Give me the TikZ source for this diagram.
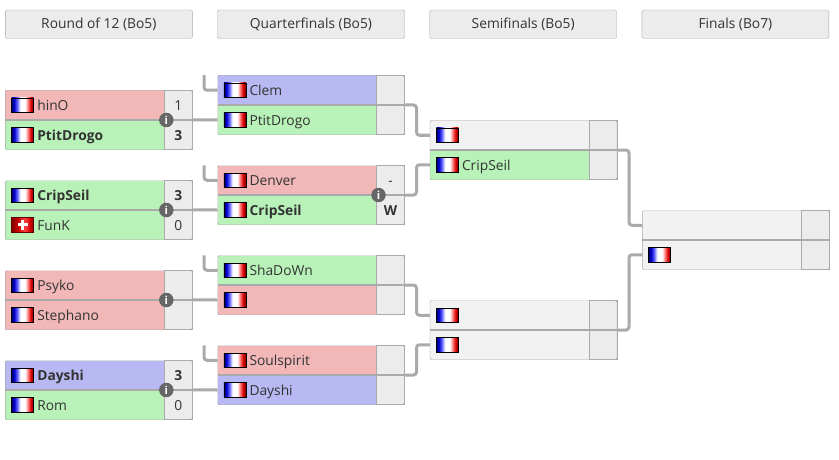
\documentclass[tikz,border=0pt]{standalone}
\usepackage{fontspec}
\setmainfont{Open Sans}
\usetikzlibrary{positioning, fit}
\definecolor{lose}{HTML}{F2B8B8}
\definecolor{win}{HTML}{B8F2B8}
\definecolor{tie}{HTML}{B8B8F2}
\definecolor{open}{HTML}{F2F2F2}
\definecolor{scorebg}{HTML}{ECECEC}
\definecolor{edge}{HTML}{AAAAAA}
\definecolor{ink}{HTML}{333333}
\pgfdeclarehorizontalshading{frshade}{100bp}{color(0bp)=(blue!45!black); color(25bp)=(blue!45!black);
    color(31bp)=(blue!80!black); color(38bp)=(blue!60!white); color(45bp)=(white); color(56bp)=(white); color(62bp)=(red!50!white);
    color(69bp)=(red!85!black); color(75bp)=(red!50!black); color(100bp)=(red!50!black)}
\pgfdeclarehorizontalshading{chshade}{100bp}{color(0bp)=(red!50!black); color(25bp)=(red!50!black);
    color(40bp)=(red!80!black); color(55bp)=(red!75!white); color(68bp)=(red!80!black);
    color(75bp)=(red!50!black); color(100bp)=(red!50!black)}
\tikzset{
    roundhdr/.style={
        rectangle, draw=edge, fill=scorebg, rounded corners=1.5pt, outer sep=0pt,
        minimum width=187pt, minimum height=28.5pt, text=ink, font=\fontsize{13.8}{16}\selectfont
    },
    namebox/.style={
        rectangle, outer sep=0pt, inner xsep=4pt, inner ysep=0pt, text width=151pt,
        minimum height=29.5pt, text height=12pt, text depth=1.5pt, align=left, text=ink,
        font=\fontsize{13.8}{16}\selectfont, execute at begin node=\hspace*{28pt}
    },
    scorebox/.style={
        rectangle, draw=edge, fill=scorebg, outer sep=0pt, inner sep=0pt,
        minimum width=28pt, minimum height=29.5pt, text height=12pt, text depth=1.5pt,
        text=ink, font=\fontsize{13.8}{16}\selectfont
    },
    matchbox/.style={draw=edge, rounded corners=1.5pt, inner sep=0pt, outer sep=0pt},
    flagfr/.style={rectangle, draw=black, line width=0.5pt, shading=frshade, inner sep=0pt, minimum width=22pt, minimum height=14.5pt},
    flagch/.style={rectangle, draw=red!40!black, line width=0.5pt, shading=chshade, inner sep=0pt, minimum width=22pt, minimum height=14.5pt,
        path picture={
            \fill[white] ([xshift=-5pt,yshift=1.5pt]path picture bounding box.center) rectangle ++(10,3);
            \fill[white] ([xshift=-1.5pt,yshift=5pt]path picture bounding box.center) rectangle ++(3,10);
        }},
    infoicon/.style={circle, fill=black!60, text=white, inner sep=0pt, minimum size=14.5pt, xshift=2pt,
        font=\fontsize{11}{11}\selectfont\bfseries},
    conn/.style={draw=edge, line width=3pt, rounded corners=3pt},
    midline/.style={draw=edge, line width=1.6pt}
}

\begin{document}
\begin{tikzpicture}[x=1pt, y=-1pt]
\useasboundingbox (0,0) rectangle (839,460);

% -- Round headers -------------------------------------------------------------
\node[roundhdr, anchor=north west] (hdr1) at (5.3,10) {Round of 12 (Bo5)};
\node[roundhdr, right=25.2pt of hdr1] (hdr2) {Quarterfinals (Bo5)};
\node[roundhdr, right=25.2pt of hdr2] (hdr3) {Semifinals (Bo5)};
\node[roundhdr, right=25.2pt of hdr3] (hdr4) {Finals (Bo7)};

% -- Round of 12 ---------------------------------------------------------------
\node[namebox, fill=lose, anchor=north west] (r1a) at (5.3,90.5) {hinO};
\node[namebox, fill=win, below=0pt of r1a] (r1b) {\textbf{PtitDrogo}};
\node[scorebox, right=0pt of r1a] (r1as) {1};
\node[scorebox, right=0pt of r1b] (r1bs) {\textbf{3}};
\node[flagfr, right=6pt of r1a.west] (r1af) {};
\node[flagfr, right=6pt of r1b.west] (r1bf) {};
\node[matchbox, fit=(r1a)(r1bs)] (r1) {};

\node[namebox, fill=win, below=31pt of r1b] (r2a) {\textbf{CripSeil}};
\node[namebox, fill=win, below=0pt of r2a] (r2b) {FunK};
\node[scorebox, right=0pt of r2a] (r2as) {\textbf{3}};
\node[scorebox, right=0pt of r2b] (r2bs) {0};
\node[flagfr, right=6pt of r2a.west] (r2af) {};
\node[flagch, right=6pt of r2b.west] (r2bf) {};
\node[matchbox, fit=(r2a)(r2bs)] (r2) {};

\node[namebox, fill=lose, below=31pt of r2b] (r3a) {Psyko};
\node[namebox, fill=lose, below=0pt of r3a] (r3b) {Stephano};
\node[scorebox, right=0pt of r3a] (r3as) {};
\node[scorebox, right=0pt of r3b] (r3bs) {};
\node[flagfr, right=6pt of r3a.west] (r3af) {};
\node[flagfr, right=6pt of r3b.west] (r3bf) {};
\node[matchbox, fit=(r3a)(r3bs)] (r3) {};

\node[namebox, fill=tie, below=31pt of r3b] (r4a) {\textbf{Dayshi}};
\node[namebox, fill=win, below=0pt of r4a] (r4b) {Rom};
\node[scorebox, right=0pt of r4a] (r4as) {\textbf{3}};
\node[scorebox, right=0pt of r4b] (r4bs) {0};
\node[flagfr, right=6pt of r4a.west] (r4af) {};
\node[flagfr, right=6pt of r4b.west] (r4bf) {};
\node[matchbox, fit=(r4a)(r4bs)] (r4) {};

% -- Quarterfinals -------------------------------------------------------------
\node[namebox, fill=tie, anchor=north west] (q1a) at (217.5,75.5) {Clem};
\node[namebox, fill=win, below=0pt of q1a] (q1b) {PtitDrogo};
\node[scorebox, right=0pt of q1a] (q1as) {};
\node[scorebox, right=0pt of q1b] (q1bs) {};
\node[flagfr, right=6pt of q1a.west] (q1af) {};
\node[flagfr, right=6pt of q1b.west] (q1bf) {};
\node[matchbox, fit=(q1a)(q1bs)] (q1) {};

\node[namebox, fill=lose, below=31pt of q1b] (q2a) {Denver};
\node[namebox, fill=win, below=0pt of q2a] (q2b) {\textbf{CripSeil}};
\node[scorebox, right=0pt of q2a] (q2as) {-};
\node[scorebox, right=0pt of q2b] (q2bs) {\textbf{W}};
\node[flagfr, right=6pt of q2a.west] (q2af) {};
\node[flagfr, right=6pt of q2b.west] (q2bf) {};
\node[matchbox, fit=(q2a)(q2bs)] (q2) {};

\node[namebox, fill=win, below=31pt of q2b] (q3a) {ShaDoWn};
\node[namebox, fill=lose, below=0pt of q3a] (q3b) {};
\node[scorebox, right=0pt of q3a] (q3as) {};
\node[scorebox, right=0pt of q3b] (q3bs) {};
\node[flagfr, right=6pt of q3a.west] (q3af) {};
\node[flagfr, right=6pt of q3b.west] (q3bf) {};
\node[matchbox, fit=(q3a)(q3bs)] (q3) {};

\node[namebox, fill=lose, below=31pt of q3b] (q4a) {Soulspirit};
\node[namebox, fill=tie, below=0pt of q4a] (q4b) {Dayshi};
\node[scorebox, right=0pt of q4a] (q4as) {};
\node[scorebox, right=0pt of q4b] (q4bs) {};
\node[flagfr, right=6pt of q4a.west] (q4af) {};
\node[flagfr, right=6pt of q4b.west] (q4bf) {};
\node[matchbox, fit=(q4a)(q4bs)] (q4) {};

% -- Semifinals ----------------------------------------------------------------
\node[namebox, fill=open, anchor=north west] (s1a) at (430,120.5) {};
\node[namebox, fill=win, below=0pt of s1a] (s1b) {CripSeil};
\node[scorebox, right=0pt of s1a] (s1as) {};
\node[scorebox, right=0pt of s1b] (s1bs) {};
\node[flagfr, right=6pt of s1a.west] (s1af) {};
\node[flagfr, right=6pt of s1b.west] (s1bf) {};
\node[matchbox, fit=(s1a)(s1bs)] (s1) {};

\node[namebox, fill=open, below=121pt of s1b] (s2a) {};
\node[namebox, fill=open, below=0pt of s2a] (s2b) {};
\node[scorebox, right=0pt of s2a] (s2as) {};
\node[scorebox, right=0pt of s2b] (s2bs) {};
\node[flagfr, right=6pt of s2a.west] (s2af) {};
\node[flagfr, right=6pt of s2b.west] (s2bf) {};
\node[matchbox, fit=(s2a)(s2bs)] (s2) {};

% -- Finals --------------------------------------------------------------------
\node[namebox, fill=open, anchor=north west] (f1a) at (642.3,210.5) {};
\node[namebox, fill=open, below=0pt of f1a] (f1b) {};
\node[scorebox, right=0pt of f1a] (f1as) {};
\node[scorebox, right=0pt of f1b] (f1bs) {};
\node[flagfr, right=6pt of f1b.west] (f1bf) {};
\node[matchbox, fit=(f1a)(f1bs)] (f1) {};

% -- Dividers ------------------------------------------------------------------
\draw[midline] (r1.west) -- (r1.east);
\draw[midline] (r2.west) -- (r2.east);
\draw[midline] (r3.west) -- (r3.east);
\draw[midline] (r4.west) -- (r4.east);
\draw[midline] (q1.west) -- (q1.east);
\draw[midline] (q2.west) -- (q2.east);
\draw[midline] (q3.west) -- (q3.east);
\draw[midline] (q4.west) -- (q4.east);
\draw[midline] (s1.west) -- (s1.east);
\draw[midline] (s2.west) -- (s2.east);
\draw[midline] (f1.west) -- (f1.east);

% -- Arrows: Round of 12 -> Quarterfinals --------------------------------------
\draw[conn] (r1.east) -- (q1b.west);
\draw[conn] (r2.east) -- (q2b.west);
\draw[conn] (r3.east) -- (q3b.west);
\draw[conn] (r4.east) -- (q4b.west);

% -- Open stubs above the quarterfinals ----------------------------------------
\coordinate[above left=15pt and 13.5pt of q1a.west] (q1in);
\coordinate[above left=15pt and 13.5pt of q2a.west] (q2in);
\coordinate[above left=15pt and 13.5pt of q3a.west] (q3in);
\coordinate[above left=15pt and 13.5pt of q4a.west] (q4in);
\draw[conn] (q1in) |- (q1a.west);
\draw[conn] (q2in) |- (q2a.west);
\draw[conn] (q3in) |- (q3a.west);
\draw[conn] (q4in) |- (q4a.west);

% -- Arrows: Quarterfinals -> Semifinals ---------------------------------------
\draw[conn] (q1.east) -- ++(12,0) |- (s1a.west);
\draw[conn] (q2.east) -- ++(12,0) |- (s1b.west);
\draw[conn] (q3.east) -- ++(12,0) |- (s2a.west);
\draw[conn] (q4.east) -- ++(12,0) |- (s2b.west);

% -- Arrows: Semifinals -> Finals ----------------------------------------------
\draw[conn] (s1.east) -- ++(12,0) |- (f1a.west);
\draw[conn] (s2.east) -- ++(12,0) |- (f1b.west);

% -- Info icons ----------------------------------------------------------------
\node[infoicon] (r1i) at (r1a.south east) {i};
\node[infoicon] (r2i) at (r2a.south east) {i};
\node[infoicon] (r3i) at (r3a.south east) {i};
\node[infoicon] (r4i) at (r4a.south east) {i};
\node[infoicon] (q2i) at (q2a.south east) {i};

\end{tikzpicture}
\end{document}
